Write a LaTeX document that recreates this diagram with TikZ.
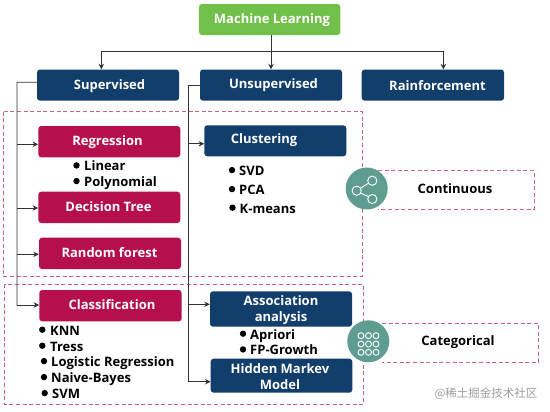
\documentclass[tikz,border=0pt]{standalone}
\usepackage{fontspec}
\setmainfont{Open Sans}
\newfontfamily\cjk{Noto Sans CJK SC}
\usetikzlibrary{arrows.meta,calc}
\definecolor{mlgreen}{HTML}{70C04A}
\definecolor{navy}{HTML}{123E6B}
\definecolor{crim}{HTML}{B5104D}
\definecolor{tealc}{HTML}{5F9C92}
\definecolor{dashc}{HTML}{C9667A}
\definecolor{linec}{HTML}{333333}
\newcommand{\bxx}[6]{\node[#6box,minimum width={(#3-#1)*1bp},minimum height={(#4-#2)*1bp}] (#5) at ({(#1+#3)/2},{(#2+#4)/2}) {};}
\newcommand{\bitm}[5]{\node[bul] (#1b) at (#2,{#3-4.6}) {};\node[txt] (#1t) at (#4,#3) {#5};}
\tikzset{
 x=1bp,y=-1bp,
 basebox/.style={rounded corners=3bp,inner sep=0pt,draw=none},
 greenbox/.style={basebox,fill=mlgreen},
 navybox/.style={basebox,fill=navy},
 crimbox/.style={basebox,fill=crim},
 lab/.style={anchor=base,yshift=-0.8bp,text=white,font=\fontsize{13bp}{15bp}\selectfont\bfseries,inner sep=0pt},
 dlab/.style={anchor=base,yshift=-0.8bp,text=black,font=\fontsize{13bp}{15bp}\selectfont\bfseries,inner sep=0pt},
 txt/.style={anchor=base west,yshift=-0.8bp,text=black,font=\fontsize{13bp}{15bp}\selectfont\bfseries,inner sep=0pt},
 bul/.style={circle,fill=black,inner sep=0pt,minimum size=6.4bp},
 conn/.style={draw=linec,line width=0.8bp},
 arr/.style={conn,-{Stealth[length=5.5bp,width=5.5bp]}},
 dashb/.style={draw=dashc,line width=0.8bp,dash pattern=on 4bp off 2.6bp},
 disc/.style={circle,fill=tealc,inner sep=0pt,minimum size=42bp},
 ico/.style={draw=white,line width=0.9bp},
}
\begin{document}
\begin{tikzpicture}
\useasboundingbox (0,0) rectangle (550,411);
\fill[white] (0,0) rectangle (550,411);
% dashed frames
\draw[dashb] (3.3,111.7) rectangle (362,276.7);
\draw[dashb] (4.3,284) rectangle (363.3,404.3);
\draw[dashb] (378,170.5) -- (534,170.5) -- (534,209) -- (378,209);
\draw[dashb] (382,323.3) -- (538.5,323.3) -- (538.5,362) -- (382,362);
% boxes
\bxx{199}{4}{340.3}{35}{ml}{green}
\bxx{37}{69.5}{179}{100.7}{sup}{navy}
\bxx{200}{69.5}{342}{100.7}{uns}{navy}
\bxx{361.7}{69.5}{504}{100.7}{rai}{navy}
\bxx{38.3}{126}{180.3}{157.3}{reg}{crim}
\bxx{38.3}{191.7}{180.3}{223}{dtr}{crim}
\bxx{39}{237.7}{181}{269}{rnd}{crim}
\bxx{39.3}{290}{181.7}{321.3}{cla}{crim}
\bxx{204.3}{125.3}{346.3}{156.3}{clu}{navy}
\bxx{210}{291.3}{352}{326.7}{ass}{navy}
\bxx{210.7}{358.7}{352.3}{392.7}{hmm}{navy}
% connectors
\coordinate (top) at (271,51.7);
\coordinate (busl) at (17,82.3);
\coordinate (busr) at (188.3,85.7);
\draw[arr] (ml.south -| top) -- (uns.north -| top);
\draw[arr] (top) -| ($(sup.north)+(-6.7,0)$);
\draw[arr] (top) -| ($(rai.north)+(10.5,0)$);
\draw[conn] ($(sup.west)+(0,-2.8)$) -- (busl) -- (busl |- cla.west);
\draw[arr] (busl |- 0,144.3) -- (reg.west |- 0,144.3);
\draw[arr] (busl |- 0,208) -- (dtr.west |- 0,208);
\draw[arr] (busl |- 0,254.3) -- (rnd.west |- 0,254.3);
\draw[arr] (busl |- 0,305) -- (cla.west |- 0,305);
\draw[conn] (uns.west |- busr) -- (busr) -- (busr |- 0,381.7);
\draw[arr] (busr |- 0,143.7) -- (clu.west |- 0,143.7);
\draw[arr] (busr |- 0,304.3) -- (ass.west |- 0,304.3);
\draw[arr] (busr |- 0,381.7) -- (hmm.west |- 0,381.7);
% labels
\node[lab] (mlt) at (272,23) {Machine Learning};
\node[lab] (supt) at (109.5,89) {Supervised};
\node[lab] (unst) at (273.5,88) {Unsupervised};
\node[lab] (rait) at (437.5,90) {Rainforcement};
\node[lab] (regt) at (107.5,145) {Regression};
\node[lab] (dtrt) at (108.5,211) {Decision Tree};
\node[lab] (rndt) at (109.5,256.7) {Random forest};
\node[lab] (clat) at (112,309) {Classification};
\node[lab] (clut) at (264,142.7) {Clustering};
\node[lab] (asst) at (281,305) {Association};
\node[lab] (asst2) at (281,320.7) {analysis};
\node[lab] (hmmt) at (280,373) {Hidden Markev};
\node[lab] (hmmt2) at (280,389) {Model};
\node[dlab] (cont) at (455,193) {Continuous};
\node[dlab] (catt) at (458,345) {Categorical};
% lists
\bitm{a}{76.5}{170}{84}{Linear}
\bitm{b}{76.5}{185.7}{84}{Polynomial}
\bitm{c}{232}{174.7}{239}{SVD}
\bitm{d}{232}{193.7}{239}{PCA}
\bitm{e}{232.5}{212.3}{239.5}{K-means}
\bitm{f}{42.3}{334.3}{50}{KNN}
\bitm{g}{42.3}{350.3}{50}{Tress}
\bitm{h}{44}{365.7}{51}{Logistic Regression}
\bitm{i}{44}{381.7}{51}{Naive-Bayes}
\bitm{j}{44.7}{397.7}{52}{SVM}
\bitm{k}{243}{338.3}{250}{Apriori}
\bitm{l}{243}{354}{250}{FP-Growth}
% discs
\node[disc] (d1) at (366.7,188.5) {};
\node[disc] (d2) at (368.3,341.3) {};
\draw[ico] (372.3,180.7) circle (4.6) (356.7,190.7) circle (4.6) (372.3,199) circle (4.6);
\draw[ico] (360.6,188.2) -- (368.4,183.2) (360.6,193.2) -- (368.4,196.5);
\foreach \px in {361,368.5,376}\foreach \py in {335.7,344,352.3}{\draw[ico] (\px,\py) circle (3);}
% watermark
\node[anchor=base,inner sep=0pt,text=black!38,font=\cjk\fontsize{11.5bp}{14bp}\selectfont] (wm) at (486,397) {@稀土掘金技术社区};
\end{tikzpicture}
\end{document}
